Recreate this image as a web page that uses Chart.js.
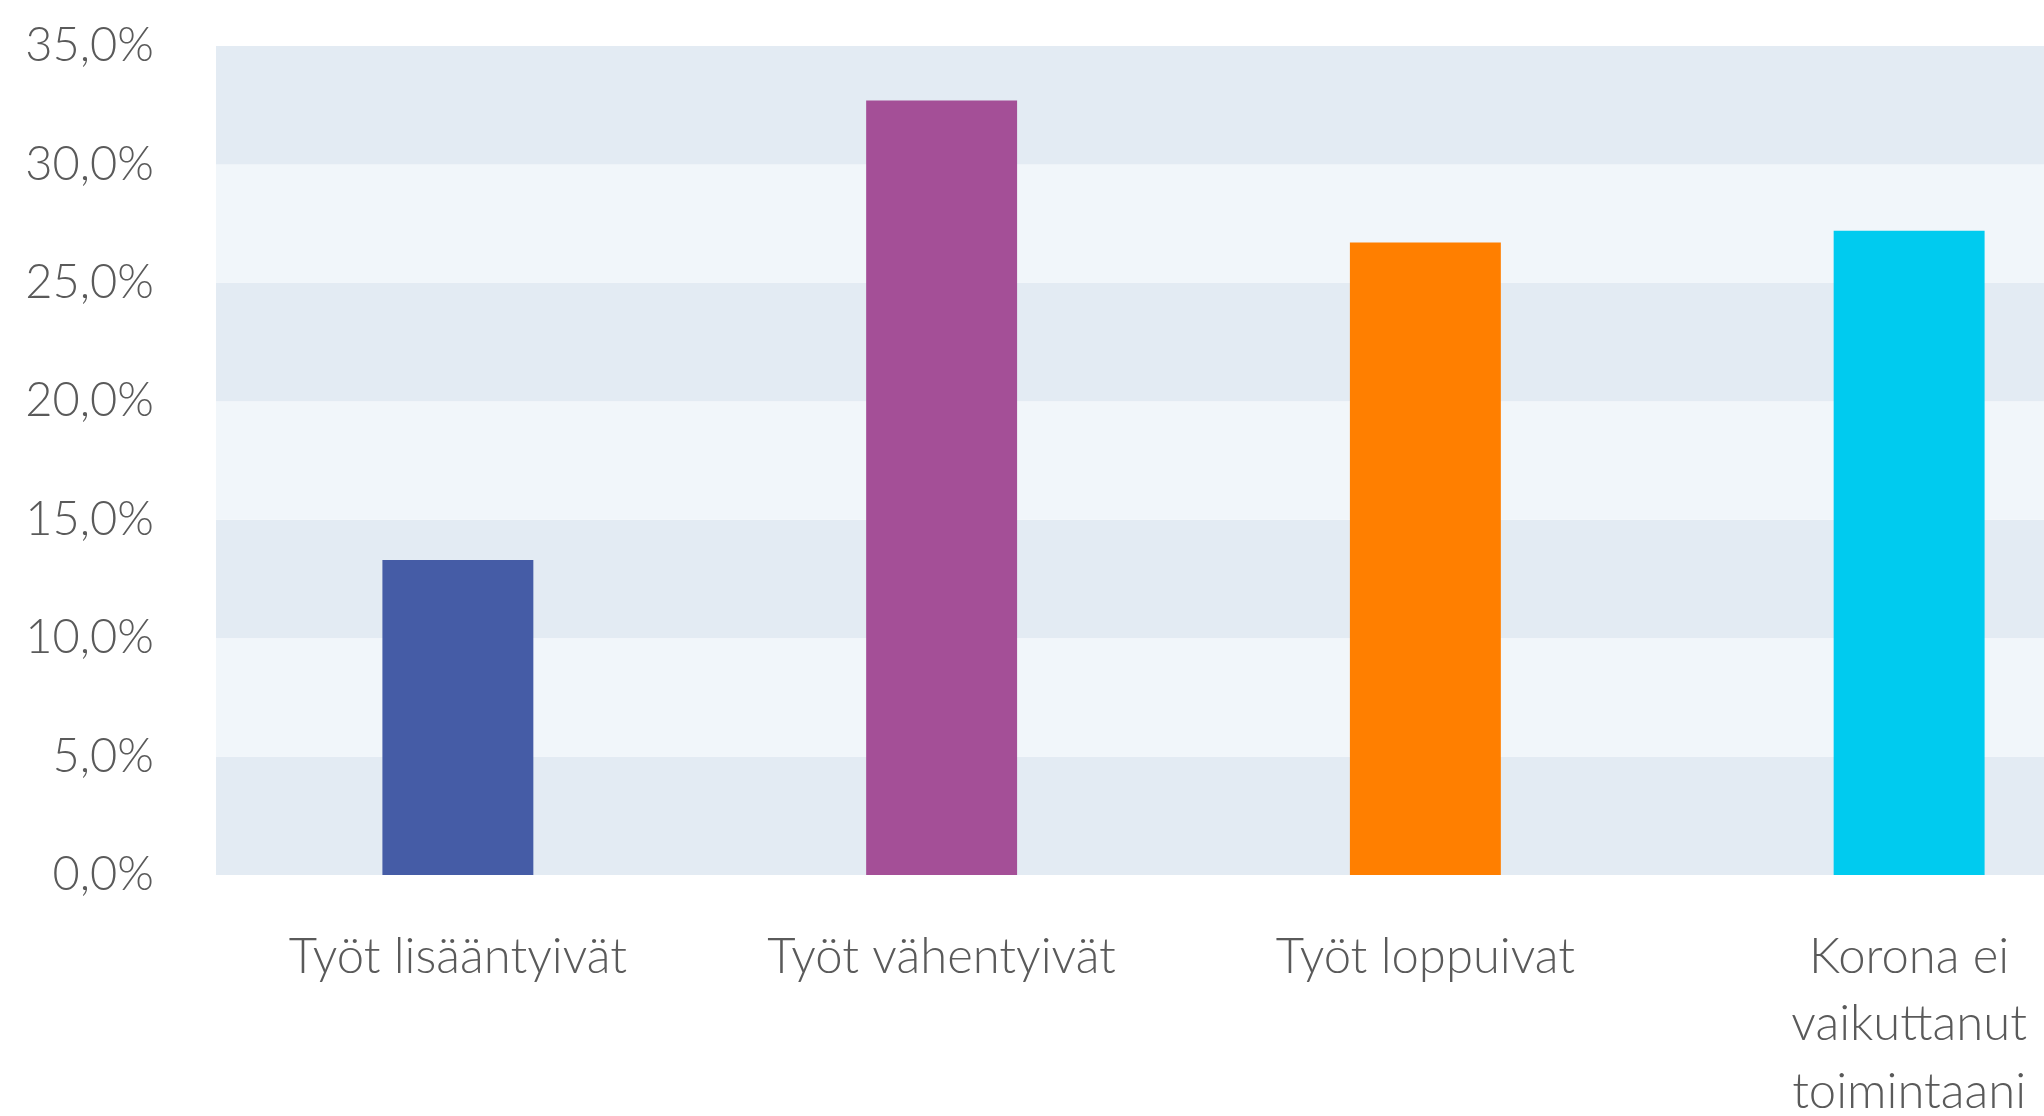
<!DOCTYPE html>
<html>
<head>
<meta charset="utf-8">
<script src="https://cdn.jsdelivr.net/npm/chart.js@4/dist/chart.umd.min.js"></script>
<style>
  html, body { margin: 0; padding: 0; background: #fff; overflow: hidden; }
  #wrap { width: 2152px; height: 1116px; position: relative; }
</style>
</head>
<body>
<div id="wrap"><canvas id="myChart"></canvas></div>
<script>
const categories = ['Työt lisääntyivät', 'Työt vähentyivät', 'Työt loppuivat', ['Korona ei', 'vaikuttanut', 'toimintaani']];
const shares = [13.3, 32.7, 26.7, 27.2];
const barColors = ['#455ca6', '#a44f97', '#ff7f00', '#00cbef'];
const bandColors = ['#e3ebf3', '#f1f6fa'];
const yMax = 35;
const yStep = 5;

// alternating background bands between y ticks
const bands = {
  id: 'bands',
  beforeDatasetsDraw(chart) {
    const { ctx, chartArea, scales } = chart;
    ctx.save();
    for (let v = 0, i = 0; v < yMax; v += yStep, i++) {
      const top = scales.y.getPixelForValue(v + yStep);
      const bottom = scales.y.getPixelForValue(v);
      ctx.fillStyle = bandColors[i % 2];
      ctx.fillRect(chartArea.left, top, chartArea.right - chartArea.left, bottom - top);
    }
    ctx.restore();
  }
};

const ctx = document.getElementById('myChart');
const myChart = new Chart(ctx, {
  type: 'bar',
  data: {
    labels: categories,
    datasets: [{
      data: shares,
      backgroundColor: barColors,
      borderWidth: 0,
      barPercentage: 0.312,
      categoryPercentage: 1
    }]
  },
  options: {
    responsive: true,
    maintainAspectRatio: false,
    animation: false,
    layout: { padding: { top: 46, right: 1, left: 0, bottom: 0 } },
    plugins: { legend: { display: false }, tooltip: { enabled: false } },
    scales: {
      x: {
        grid: { display: false },
        border: { display: false },
        ticks: {
          color: '#5a5a5a',
          padding: 40,
          maxRotation: 0,
          autoSkip: false,
          font: { family: 'Lato', size: 49, weight: 300, lineHeight: 1.38 }
        },
        afterFit: s => { s.height = 241; s.paddingTop = 0; s.paddingBottom = 0; }
      },
      y: {
        min: 0,
        max: yMax,
        grid: { display: false },
        border: { display: false },
        ticks: {
          stepSize: yStep,
          color: '#5a5a5a',
          padding: 54,
          font: { family: 'Lato', size: 47, weight: 300 },
          callback: v => v.toFixed(1).replace('.', ',') + '%'
        },
        afterFit: s => { s.width = 216; s.paddingTop = 0; s.paddingBottom = 0; }
      }
    }
  },
  plugins: [bands]
});
</script>
</body>
</html>
